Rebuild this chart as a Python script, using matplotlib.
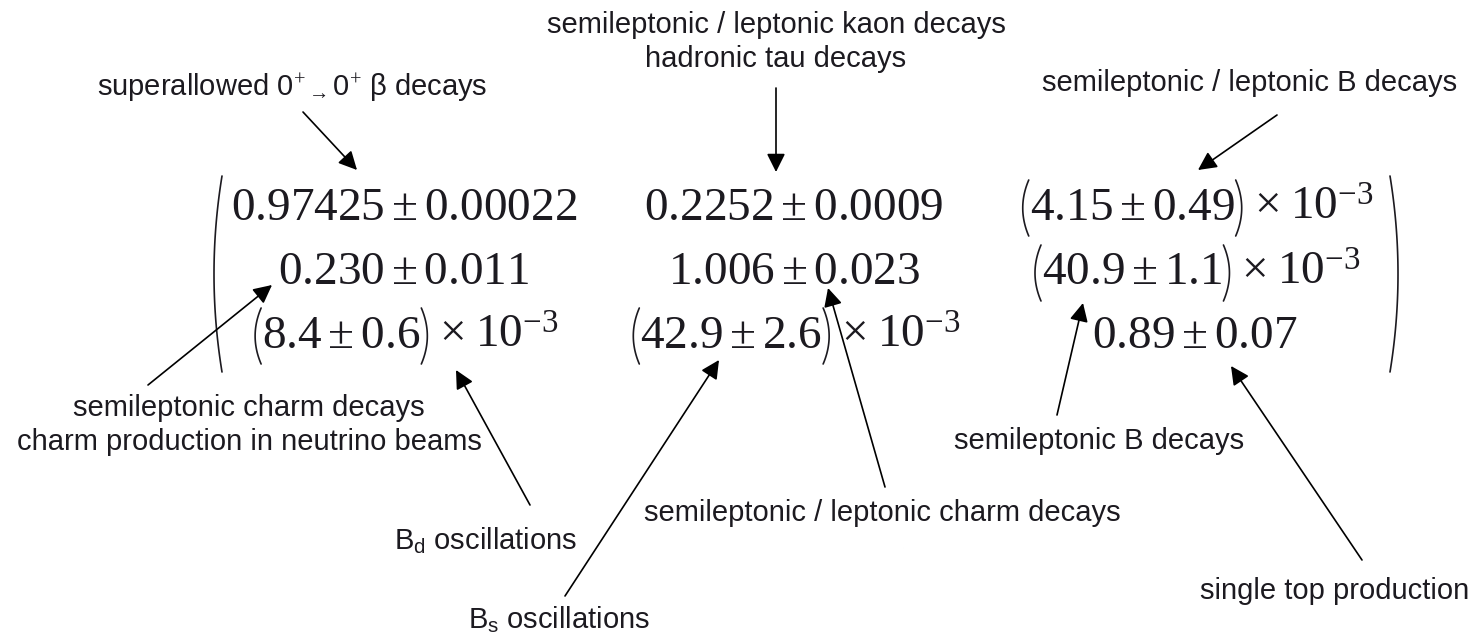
import numpy as np
import matplotlib.pyplot as plt

plt.rcParams['mathtext.fontset'] = 'custom'
plt.rcParams['mathtext.rm'] = 'Liberation Serif'
plt.rcParams['mathtext.it'] = 'Liberation Serif:italic'
plt.rcParams['mathtext.sf'] = 'Liberation Sans'

# CKM matrix entries: central value, error, power of ten
central = [["0.97425", "0.2252", "4.15"],
           ["0.230", "1.006", "40.9"],
           ["8.4", "42.9", "0.89"]]
errors = [["0.00022", "0.0009", "0.49"],
          ["0.011", "0.023", "1.1"],
          ["0.6", "2.6", "0.07"]]
exponents = [[0, 0, -3],
             [0, 0, -3],
             [-3, -3, 0]]

# annotation labels
labels = [
    r"superallowed 0$^{+}$$_{\rightarrow}$0$^{+}$ β decays",
    "semileptonic / leptonic kaon decays\nhadronic tau decays",
    "semileptonic / leptonic B decays",
    "semileptonic charm decays\ncharm production in neutrino beams",
    r"B$_{\mathsf{d}}$ oscillations",
    r"B$_{\mathsf{s}}$ oscillations",
    "semileptonic / leptonic charm decays",
    "semileptonic B decays",
    "single top production",
]

# layout (pixel coordinates, y downwards)
col_x = [404, 794, 1195]
row_y = [207, 272, 335]
label_xy = [(292, 88), (776, 42), (1250, 83), (249, 425), (486, 541),
            (559, 620), (882, 513), (1099, 441), (1335, 591)]
arrow_from = [(303, 112), (776, 88), (1277, 115), (148, 385), (530, 505),
              (565, 596), (885, 487), (1057, 415), (1362, 560)]
arrow_to = [(357, 170), (776, 172), (1198, 170), (272, 285), (456, 370),
            (719, 360), (828, 288), (1083, 303), (1231, 366)]

ink = '#1c1a20'
num_size = 34

fig = plt.figure(figsize=(14.75, 6.4), dpi=100)
ax = fig.add_axes([0, 0, 1, 1])
ax.set_xlim(0, 1475)
ax.set_ylim(640, 0)
ax.axis('off')
renderer = fig.canvas.get_renderer()


def paren(x, y0, y1, bulge, left=True):
    yy = np.linspace(y0, y1, 60)
    t = (yy - (y0 + y1) / 2) / ((y1 - y0) / 2)
    off = bulge * (1 - t ** 2)
    xx = x - off if left else x + off
    ax.plot(xx, yy, color=ink, lw=1.2, solid_capstyle='round')


for i in range(3):
    for j in range(3):
        inner = r"$%s \pm %s$" % (central[i][j], errors[i][j])
        if exponents[i][j] == 0:
            ax.text(col_x[j], row_y[i], inner, fontsize=num_size,
                    ha='center', va='center', color=ink)
            continue
        t_in = ax.text(0, row_y[i], inner, fontsize=num_size, ha='left',
                       va='center', color=ink)
        t_pw = ax.text(0, row_y[i], r"$\times\;10^{%d}$" % exponents[i][j],
                       fontsize=num_size, ha='left', va='center', color=ink)
        w_in = t_in.get_window_extent(renderer).width
        w_pw = t_pw.get_window_extent(renderer).width
        pw, gap = 13, 6
        x0 = col_x[j] - (2 * pw + w_in + gap + w_pw) / 2
        t_in.set_x(x0 + pw)
        t_pw.set_x(x0 + 2 * pw + w_in + gap)
        paren(x0 + pw - 1, row_y[i] - 27, row_y[i] + 29, 6, left=True)
        paren(x0 + pw + w_in + 1, row_y[i] - 27, row_y[i] + 29, 6, left=False)

# big matrix parentheses
paren(222, 176, 372, 8, left=True)
paren(1390, 176, 372, 8, left=False)

for lab, (x, y) in zip(labels, label_xy):
    ax.text(x, y, lab, fontsize=21, family='Liberation Sans', ha='center',
            va='center', color=ink, linespacing=1.3)

for p0, p1 in zip(arrow_from, arrow_to):
    ax.annotate('', xy=p1, xytext=p0,
                arrowprops=dict(arrowstyle='-|>', color='black', lw=1.2,
                                mutation_scale=28, shrinkA=0, shrinkB=0))

fig.savefig('out.png', dpi=100)
